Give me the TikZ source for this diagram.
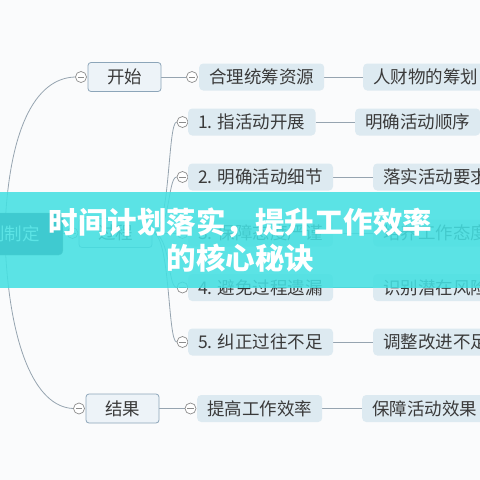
\documentclass[tikz,border=0pt]{standalone}
\usepackage{fontspec}
\newfontfamily\cjk{Noto Sans CJK SC}
\usetikzlibrary{calc,backgrounds}
\definecolor{bg}{RGB}{250,251,252}
\definecolor{lineg}{RGB}{150,164,176}
\definecolor{txt}{RGB}{58,58,58}
\definecolor{subfill}{RGB}{221,234,241}
\definecolor{mainfill}{RGB}{237,243,248}
\definecolor{mainedge}{RGB}{140,165,185}
\definecolor{rootfill}{RGB}{30,60,90}
\definecolor{banner}{RGB}{68,224,226}
\definecolor{togedge}{RGB}{140,140,140}
\begin{document}
\begin{tikzpicture}[x=1pt,y=-1pt,
  every node/.style={font=\cjk\fontsize{17.5}{17.5}\selectfont, text=txt},
  mainbox/.style={draw=mainedge, fill=mainfill, rounded corners=3pt, minimum width=73pt, minimum height=29pt, inner sep=0pt, line width=0.8pt},
  subbox/.style={fill=subfill, rounded corners=4pt, minimum height=27pt, inner xsep=10pt, inner ysep=0pt, anchor=west},
  tog/.style={circle, draw=togedge, fill=white, minimum size=11pt, inner sep=0pt, line width=0.7pt,
    path picture={\draw[togedge, line width=0.7pt] ([xshift=-3.2pt]path picture bounding box.center) -- ([xshift=3.2pt]path picture bounding box.center);}},
  conn/.style={draw=lineg, line width=0.8pt},
  bannertext/.style={font=\cjk\bfseries\fontsize{29.5}{29.5}\selectfont, text=white}
]
\useasboundingbox (0,0) rectangle (480,480);

% root
\node[fill=rootfill, draw=black!60, rounded corners=4pt, anchor=east, minimum height=42pt, inner xsep=23pt, text=white] (root) at (63,234) {计划制定};

% main branches
\node[mainbox] (start) at (124.5,77) {开始};
\node[mainbox] (proc) at (115.5,233) {过程};
\node[mainbox] (fin) at (122.5,408.5) {结果};
\node[tog] (tstart) at (81,77) {};
\node[tog] (tproc) at (72.5,233) {};
\node[tog] (tfin) at (79,408.5) {};

% level 2
\node[tog] (t0) at (192,77) {};
\node[subbox] (s0) at (199,77) {合理统筹资源};
\node[tog] (t1) at (182.5,122) {};
\node[subbox] (s1) at (188,122) {1. 指活动开展};
\node[tog] (t2) at (182.5,177) {};
\node[subbox] (s2) at (188,177) {2. 明确活动细节};
\node[tog] (t3) at (182.5,233) {};
\node[subbox] (s3) at (188,233) {3. 保障态度严谨};
\node[tog] (t4) at (182.5,287.5) {};
\node[subbox] (s4) at (188,287.5) {4. 避免过程遗漏};
\node[tog] (t5) at (182.5,342) {};
\node[subbox] (s5) at (188,342) {5. 纠正过往不足};
\node[tog] (t6) at (190.5,408.5) {};
\node[subbox] (s6) at (197,408.5) {提高工作效率};

% level 3
\node[subbox] (r0) at (363,77) {人财物的筹划};
\node[subbox] (r1) at (355,122) {明确活动顺序};
\node[subbox] (r2) at (373,177) {落实活动要求};
\node[subbox] (r3) at (373,233) {培养工作态度};
\node[subbox] (r4) at (373,287.5) {识别潜在风险};
\node[subbox] (r5) at (373,342) {调整改进不足};
\node[subbox] (r6) at (362,408.5) {保障活动效果};

\begin{scope}[on background layer]
  \fill[bg] (0,0) rectangle (480,480);
  % root curves
  \draw[conn] (root.center) .. controls (8,130) and (35,78) .. (tstart.west);
  \draw[conn] (root.center) .. controls (8,345) and (35,407) .. (tfin.west);
  \draw[conn] (root.center |- tproc.west) -- (tproc.west);
  % main to level 2
  \draw[conn] (start.east) -- (t0.west);
  \draw[conn] (fin.east) -- (t6.west);
  \draw[conn] (proc.east) .. controls +(18,0) and +(-9,0) .. (t1.west);
  \draw[conn] (proc.east) .. controls +(18,0) and +(-9,0) .. (t2.west);
  \draw[conn] (proc.east) -- (t3.west);
  \draw[conn] (proc.east) .. controls +(18,0) and +(-9,0) .. (t4.west);
  \draw[conn] (proc.east) .. controls +(18,0) and +(-9,0) .. (t5.west);
  % level 2 to level 3
  \draw[conn] (s0.east) -- (r0.west);
  \draw[conn] (s1.east) -- (r1.west);
  \draw[conn] (s2.east) -- (r2.west);
  \draw[conn] (s3.east) -- (r3.west);
  \draw[conn] (s4.east) -- (r4.west);
  \draw[conn] (s5.east) -- (r5.west);
  \draw[conn] (s6.east) -- (r6.west);
\end{scope}

% banner overlay
\fill[banner, opacity=0.87] (0,192) rectangle (480,288);
\node[bannertext] (b1) at (240.5,222.5) {时间计划落实，提升工作效率};
\node[bannertext] (b2) at (240.5,258) {的核心秘诀};
\end{tikzpicture}
\end{document}
